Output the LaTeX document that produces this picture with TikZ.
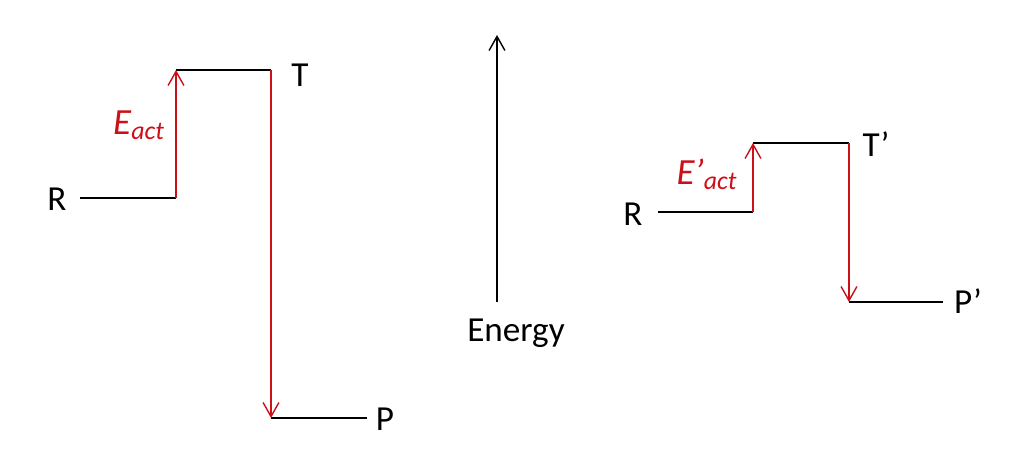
\documentclass[tikz,border=0pt]{standalone}
\usepackage{fontspec}
\setmainfont{Carlito}
\usetikzlibrary{arrows.meta}
\definecolor{actred}{RGB}{204,16,24}

\begin{document}
\begin{tikzpicture}[x=0.02cm,y=-0.02cm,
	level/.style={line width=0.8pt},
	jump/.style={actred,line width=0.8pt,-{Straight Barb[length=8pt,width=9pt]}},
	lab/.style={font=\fontsize{20}{24}\selectfont,anchor=base,inner sep=0pt},
	]
	\useasboundingbox (0,0) rectangle (1024,466);
	% left profile
	\coordinate (r1) at (80,198);
	\coordinate (r2) at (176,198);
	\coordinate (t1) at (176,70);
	\coordinate (t2) at (271,70);
	\coordinate (p1) at (271,418);
	\coordinate (p2) at (367,418);
	\draw[level] (r1) -- (r2);
	\draw[level] (t1) -- (t2);
	\draw[level] (p1) -- (p2);
	\draw[jump] (r2) -- (t1);
	\draw[jump] (t2) -- (p1);
	\node[lab] (rlab) at (57,210) {R};
	\node[lab] (tlab) at (300,87) {T};
	\node[lab] (plab) at (385,430) {P};
	\node[lab,actred] (elab) at (139,134) {\fontsize{21}{24}\selectfont\textit{E}\textsubscript{\textit{act}}};
	% energy axis
	\coordinate (e1) at (497,302);
	\coordinate (e2) at (497,35);
	\draw[line width=0.8pt,-{Straight Barb[length=8pt,width=9pt]}] (e1) -- (e2);
	\node[lab] (elabel) at (516,341) {Energy};
	% right profile
	\coordinate (rr1) at (658,212);
	\coordinate (rr2) at (753,212);
	\coordinate (tt1) at (753,143);
	\coordinate (tt2) at (849,143);
	\coordinate (pp1) at (849,302);
	\coordinate (pp2) at (943,302);
	\draw[level] (rr1) -- (rr2);
	\draw[level] (tt1) -- (tt2);
	\draw[level] (pp1) -- (pp2);
	\draw[jump] (rr2) -- (tt1);
	\draw[jump] (tt2) -- (pp1);
	\node[lab] (rrlab) at (633,225) {R};
	\node[lab] (ttlab) at (876,156) {T’};
	\node[lab] (pplab) at (968,313) {P’};
	\node[lab,actred] (eelab) at (707,184) {\fontsize{21}{24}\selectfont\textit{E’}\textsubscript{\textit{act}}};
\end{tikzpicture}
\end{document}
